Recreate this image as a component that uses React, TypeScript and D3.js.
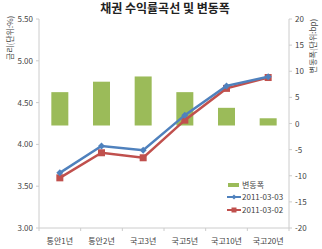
import React from "react";
import * as d3 from "d3";

const categories = ["통안1년", "통안2년", "국고3년", "국고5년", "국고10년", "국고20년"];
const change = [6, 8, 9, 6, 3, 1];
const y0303 = [3.66, 3.98, 3.93, 4.35, 4.70, 4.81];
const y0302 = [3.60, 3.90, 3.84, 4.29, 4.67, 4.80];
const leftTicks = [3.0, 3.5, 4.0, 4.5, 5.0, 5.5];
const rightTicks = [-20, -15, -10, -5, 0, 5, 10, 15, 20];

const W = 322, H = 249;
const L = 39, R = 289, T = 19, B = 228;

export default function App() {
  const x = d3.scaleBand().domain(categories).range([L, R]);
  const yL = d3.scaleLinear().domain([3, 5.5]).range([B, T]);
  const yR = d3.scaleLinear().domain([-20, 20]).range([B, T]);
  const line = d3.line<number>().x((_, i) => x(categories[i])! + x.bandwidth() / 2).y(v => yL(v));
  const bw = 17;
  const font = "Malgun Gothic, 'Noto Sans CJK KR', sans-serif";
  const tickColor = "#444";
  const boundaries = categories.map((_, i) => L + i * x.bandwidth()).concat([R]);
  return (
    <div style={{ position: "absolute", left: 0, top: 0 }}>
      <svg width={W} height={H} style={{ display: "block", fontFamily: font }}>
        <rect width={W} height={H} fill="#fff" />
        <text x={165} y={13} textAnchor="middle" fontSize={12} fontWeight="bold" fill="#222">채권 수익률곡선 및 변동폭</text>
        {/* axes */}
        <line x1={L} x2={L} y1={T} y2={B} stroke="#ccc" />
        <line x1={R} x2={R} y1={T} y2={B} stroke="#ccc" />
        <line x1={L} x2={R} y1={B} y2={B} stroke="#ccc" />
        {leftTicks.map(t => (
          <g key={t}>
            <line x1={L - 3} x2={L} y1={yL(t)} y2={yL(t)} stroke="#ccc" />
            <text x={L - 6} y={yL(t) + 3} textAnchor="end" fontSize={8} fill={tickColor}>{t.toFixed(2)}</text>
          </g>
        ))}
        {rightTicks.map(t => (
          <g key={t}>
            <line x1={R} x2={R + 3} y1={yR(t)} y2={yR(t)} stroke="#ccc" />
            <text x={R + 6} y={yR(t) + 3} textAnchor="start" fontSize={8} fill={tickColor}>{t}</text>
          </g>
        ))}
        {boundaries.map((b, i) => (
          <line key={i} x1={b} x2={b} y1={B} y2={B + 3} stroke="#ccc" />
        ))}
        {categories.map(c => (
          <text key={c} x={x(c)! + x.bandwidth() / 2} y={B + 16} textAnchor="middle" fontSize={8} fill={tickColor}>{c}</text>
        ))}
        <text transform={`translate(13, ${38}) rotate(-90)`} textAnchor="middle" fontSize={8} fill={tickColor}>금리(단위:%)</text>
        <text transform={`translate(316, ${46}) rotate(-90)`} textAnchor="middle" fontSize={8} fill={tickColor}>변동폭(단위:bp)</text>
        {/* bars */}
        {categories.map((c, i) => (
          <rect key={c} x={x(c)! + x.bandwidth() / 2 - bw / 2} y={yR(change[i])} width={bw} height={yR(0) - yR(change[i]) + 2} fill="#9BBB59" />
        ))}
        {/* lines */}
        <path d={line(y0302)!} fill="none" stroke="#C0504D" strokeWidth={2.5} />
        {y0302.map((v, i) => (
          <rect key={i} x={x(categories[i])! + x.bandwidth() / 2 - 3.5} y={yL(v) - 3.5} width={7} height={7} fill="#C0504D" />
        ))}
        <path d={line(y0303)!} fill="none" stroke="#4F81BD" strokeWidth={2.5} />
        {y0303.map((v, i) => {
          const cx = x(categories[i])! + x.bandwidth() / 2, cy = yL(v);
          return <path key={i} d={`M${cx},${cy - 3.5}L${cx + 3.5},${cy}L${cx},${cy + 3.5}L${cx - 3.5},${cy}Z`} fill="#4F81BD" />;
        })}
        {/* legend */}
        <rect x={228} y={183} width={11} height={4} fill="#9BBB59" />
        <text x={242} y={188} fontSize={8} fill={tickColor}>변동폭</text>
        <line x1={227} x2={241} y1={197} y2={197} stroke="#4F81BD" strokeWidth={2} />
        <path d="M234,194.5L236.5,197L234,199.5L231.5,197Z" fill="#4F81BD" />
        <text x={242} y={200} fontSize={8} fill={tickColor}>2011-03-03</text>
        <line x1={227} x2={241} y1={210} y2={210} stroke="#C0504D" strokeWidth={2} />
        <rect x={231.5} y={207.5} width={5} height={5} fill="#C0504D" />
        <text x={242} y={213} fontSize={8} fill={tickColor}>2011-03-02</text>
      </svg>
    </div>
  );
}
